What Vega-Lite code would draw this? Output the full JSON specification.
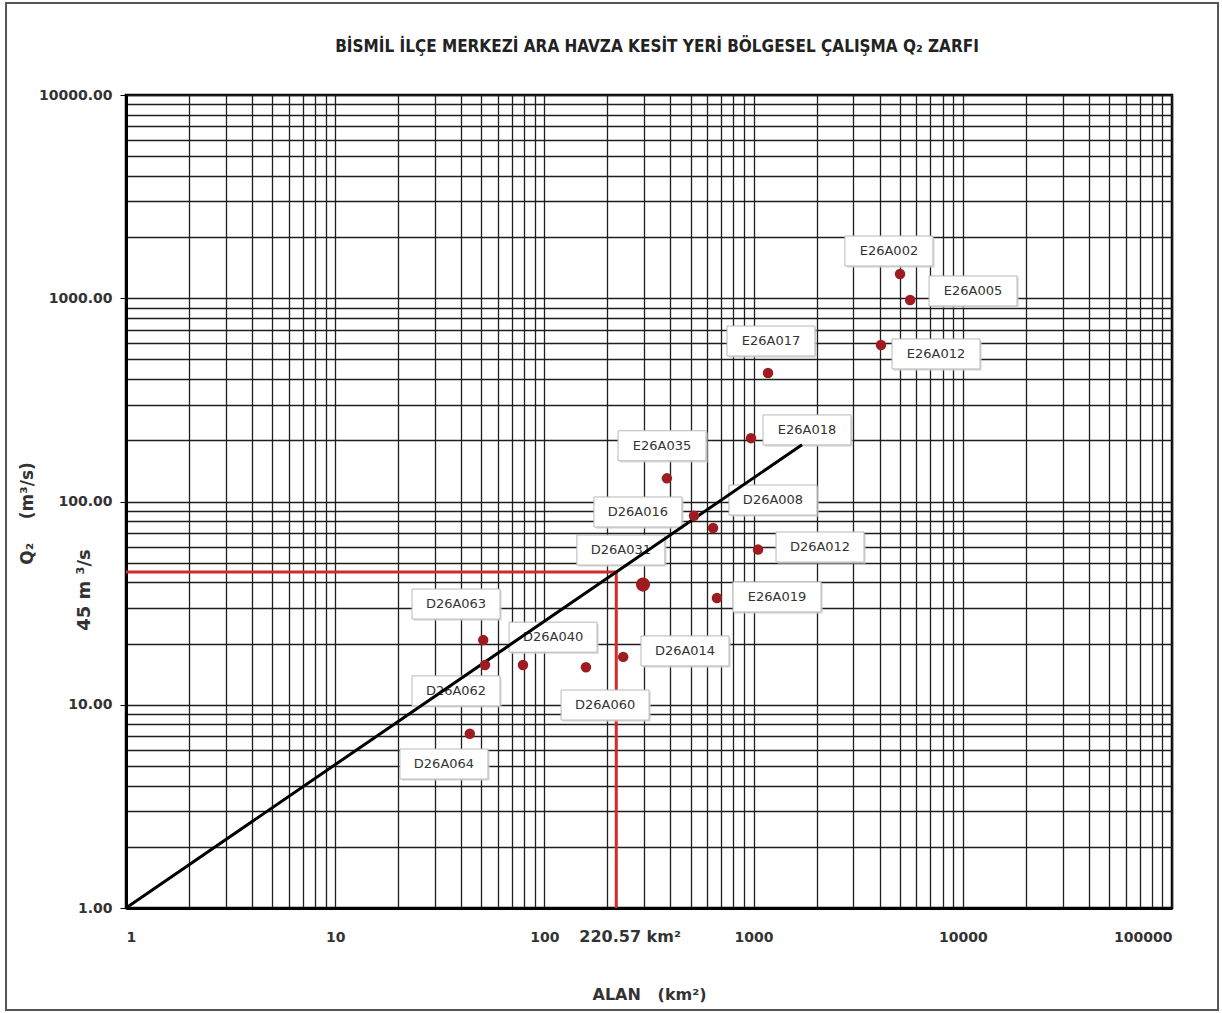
{
  "$schema": "https://vega.github.io/schema/vega-lite/v6.json",
  "autosize": {"type": "none"},
  "width": 1046,
  "height": 813,
  "padding": {"left": 126, "top": 95, "right": 50, "bottom": 105},
  "background": "white",
  "config": {
    "view": {"stroke": "#000", "strokeWidth": 2.5},
    "axis": {"domainColor": "#000", "domainWidth": 3}
  },
  "title": {
    "text": "BİSMİL İLÇE MERKEZİ ARA HAVZA KESİT YERİ BÖLGESEL ÇALIŞMA Q₂ ZARFI",
    "font": "DejaVu Sans Condensed",
    "fontSize": 17,
    "fontWeight": "bold",
    "color": "#222",
    "anchor": "middle",
    "frame": "group",
    "dx": 8,
    "offset": -54
  },
  "datasets": {
    "istasyonlar": [
      {"istasyon": "E26A002", "alan": 5012, "q2": 1316, "lx": 4436, "ly": 1708},
      {"istasyon": "E26A005", "alan": 5600, "q2": 980, "lx": 11194, "ly": 1086},
      {"istasyon": "E26A012", "alan": 4064, "q2": 589, "lx": 7447, "ly": 532},
      {"istasyon": "E26A017", "alan": 1172, "q2": 429, "lx": 1211, "ly": 616},
      {"istasyon": "E26A018", "alan": 972, "q2": 205, "lx": 1800, "ly": 225},
      {"istasyon": "E26A035", "alan": 385, "q2": 130, "lx": 365, "ly": 188},
      {"istasyon": "D26A016", "alan": 519, "q2": 85, "lx": 280, "ly": 88.8},
      {"istasyon": "D26A008", "alan": 640, "q2": 74, "lx": 1238, "ly": 101.7},
      {"istasyon": "D26A012", "alan": 1050, "q2": 58, "lx": 2077, "ly": 59.7},
      {"istasyon": "D26A031", "alan": 296, "q2": 39, "lx": 232, "ly": 57.7},
      {"istasyon": "E26A019", "alan": 668, "q2": 33.5, "lx": 1294, "ly": 33.9},
      {"istasyon": "D26A014", "alan": 238, "q2": 17.2, "lx": 470, "ly": 18.4},
      {"istasyon": "D26A060", "alan": 158, "q2": 15.3, "lx": 195, "ly": 9.97},
      {"istasyon": "D26A040", "alan": 79, "q2": 15.7, "lx": 110, "ly": 21.5},
      {"istasyon": "D26A063", "alan": 51, "q2": 20.8, "lx": 37.8, "ly": 31.3},
      {"istasyon": "D26A062", "alan": 52, "q2": 15.7, "lx": 37.8, "ly": 11.7},
      {"istasyon": "D26A064", "alan": 44, "q2": 7.2, "lx": 33.1, "ly": 5.11}
    ],
    "zarf": [
      {"alan": 1, "q2": 1},
      {"alan": 220.57, "q2": 45},
      {"alan": 1704, "q2": 190.3}
    ],
    "yatay": [
      {"alan": 1, "q2": 45},
      {"alan": 220.57, "q2": 45}
    ],
    "dusey": [
      {"alan": 220.57, "q2": 1},
      {"alan": 220.57, "q2": 45}
    ]
  },
  "layer": [
    {
      "data": {"values": [{}]},
      "mark": {"type": "rect", "fill": null, "stroke": "#555", "strokeWidth": 2, "clip": false},
      "encoding": {
        "x": {"datum": 0.267, "type": "quantitative", "scale": {"type": "log", "domain": [1, 100000], "nice": false}},
        "x2": {"datum": 165950},
        "y": {"datum": 28350, "type": "quantitative", "scale": {"type": "log", "domain": [1, 10000], "nice": false}},
        "y2": {"datum": 0.315}
      }
    },
    {
      "data": {"name": "yatay"},
      "mark": {"type": "line", "color": "#d42a2a", "strokeWidth": 3},
      "encoding": {
        "x": {
          "field": "alan", "type": "quantitative",
          "scale": {"type": "log", "domain": [1, 100000], "nice": false},
          "axis": {
            "values": [1,2,3,4,5,6,7,8,9,10,20,30,40,50,60,70,80,90,100,200,300,400,500,600,700,800,900,1000,2000,3000,4000,5000,6000,7000,8000,9000,10000,20000,30000,40000,50000,60000,70000,80000,90000,100000],
            "format": "d",
            "labelExpr": "indexof([1,10,100,1000,10000,100000], datum.value) >= 0 ? datum.label : ''",
            "grid": true,
            "gridColor": "#1e1e1e",
            "gridWidth": 1.3,
            "ticks": false,
            "labelFont": "DejaVu Sans",
            "labelFontSize": 14,
            "labelFontWeight": "bold",
            "labelColor": "#333",
            "labelPadding": 22,
            "labelBaseline": "top",
            "labelOverlap": false,
            "title": "ALAN\u00a0\u00a0\u00a0(km²)",
            "titleFont": "DejaVu Sans",
            "titleFontSize": 16,
            "titleFontWeight": "bold",
            "titleColor": "#333",
            "titlePadding": 42
          }
        },
        "y": {
          "field": "q2", "type": "quantitative",
          "scale": {"type": "log", "domain": [1, 10000], "nice": false},
          "axis": {
            "values": [1,2,3,4,5,6,7,8,9,10,20,30,40,50,60,70,80,90,100,200,300,400,500,600,700,800,900,1000,2000,3000,4000,5000,6000,7000,8000,9000,10000],
            "format": ".2f",
            "labelExpr": "indexof([1,10,100,1000,10000], datum.value) >= 0 ? datum.label : ''",
            "grid": true,
            "gridColor": "#1e1e1e",
            "gridWidth": 1.3,
            "tickSize": 6,
            "tickColor": "#000",
            "tickOpacity": {"condition": {"test": "indexof([1,10,100,1000,10000], datum.value) >= 0", "value": 1}, "value": 0},
            "labelFont": "DejaVu Sans",
            "labelFontSize": 14,
            "labelFontWeight": "bold",
            "labelColor": "#333",
            "labelPadding": 8,
            "labelOverlap": false,
            "title": "Q₂\u00a0\u00a0\u00a0\u00a0(m³/s)",
            "titleFont": "DejaVu Sans",
            "titleFontSize": 17,
            "titleFontWeight": "bold",
            "titleColor": "#333",
            "titleAngle": 270,
            "titleX": -99,
            "titleY": 418,
            "titleAlign": "center",
            "titleBaseline": "middle"
          }
        }
      }
    },
    {
      "data": {"name": "dusey"},
      "mark": {"type": "line", "color": "#d42a2a", "strokeWidth": 3},
      "encoding": {
        "x": {"field": "alan", "type": "quantitative"},
        "y": {"field": "q2", "type": "quantitative"}
      }
    },
    {
      "data": {"name": "istasyonlar"},
      "mark": {"type": "point", "shape": "M-0.96,-0.3H1.04V0.38H-0.96Z", "size": 7744, "filled": true, "fill": "#d0d0d0", "strokeWidth": 0, "opacity": 0.7},
      "encoding": {
        "x": {"field": "lx", "type": "quantitative"},
        "y": {"field": "ly", "type": "quantitative"}
      }
    },
    {
      "data": {"name": "istasyonlar"},
      "mark": {"type": "point", "shape": "M-1,-0.341H1V0.341H-1Z", "size": 7744, "filled": true, "fill": "white", "stroke": "#b8b8b8", "strokeWidth": 1, "opacity": 1},
      "encoding": {
        "x": {"field": "lx", "type": "quantitative"},
        "y": {"field": "ly", "type": "quantitative"}
      }
    },
    {
      "data": {"name": "istasyonlar"},
      "mark": {"type": "text", "font": "DejaVu Sans", "fontSize": 13, "color": "#333", "align": "center", "baseline": "middle"},
      "encoding": {
        "x": {"field": "lx", "type": "quantitative"},
        "y": {"field": "ly", "type": "quantitative"},
        "text": {"field": "istasyon"}
      }
    },
    {
      "data": {"name": "zarf"},
      "mark": {"type": "line", "color": "#000", "strokeWidth": 3},
      "encoding": {
        "x": {"field": "alan", "type": "quantitative"},
        "y": {"field": "q2", "type": "quantitative"}
      }
    },
    {
      "data": {"name": "istasyonlar"},
      "transform": [{"filter": "datum.istasyon !== 'D26A031'"}],
      "mark": {"type": "point", "shape": "circle", "size": 110, "filled": true, "color": "#9e1c20", "opacity": 1},
      "encoding": {
        "x": {"field": "alan", "type": "quantitative"},
        "y": {"field": "q2", "type": "quantitative"}
      }
    },
    {
      "data": {"name": "istasyonlar"},
      "transform": [{"filter": "datum.istasyon === 'D26A031'"}],
      "mark": {"type": "point", "shape": "circle", "size": 200, "filled": true, "color": "#9e1c20", "opacity": 1},
      "encoding": {
        "x": {"field": "alan", "type": "quantitative"},
        "y": {"field": "q2", "type": "quantitative"}
      }
    },
    {
      "data": {"values": [{}]},
      "mark": {"type": "text", "text": "220.57 km²", "font": "DejaVu Sans", "fontSize": 16, "fontWeight": "bold", "color": "#333", "align": "left", "baseline": "top", "dx": -37, "dy": 21, "clip": false},
      "encoding": {
        "x": {"datum": 220.57, "type": "quantitative"},
        "y": {"datum": 1, "type": "quantitative"}
      }
    },
    {
      "data": {"values": [{}]},
      "mark": {"type": "text", "text": "45 m ³/s", "font": "DejaVu Sans", "fontSize": 18, "fontWeight": "bold", "color": "#333", "angle": 270, "align": "center", "baseline": "middle", "dx": -18, "dy": -41, "clip": false},
      "encoding": {
        "x": {"datum": 1, "type": "quantitative"},
        "y": {"datum": 45, "type": "quantitative"}
      }
    }
  ]
}
